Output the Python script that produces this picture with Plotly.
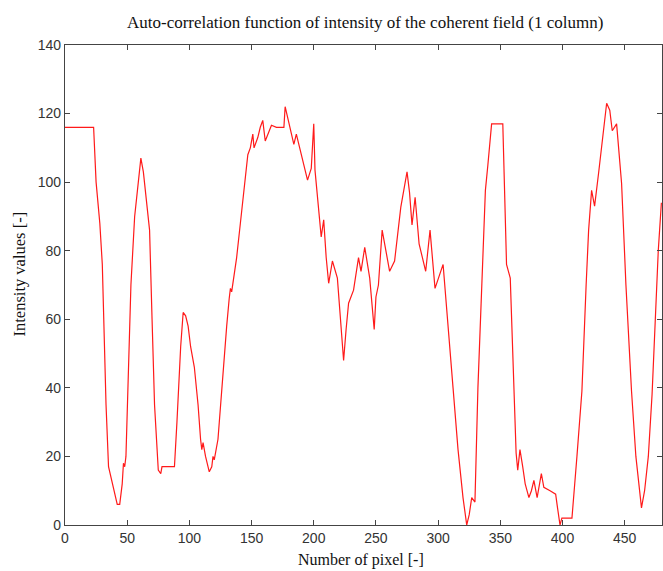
import plotly.graph_objects as go

# Pixel index (x) and intensity values (y)
pixel = [0, 23, 25, 28, 30, 33, 35, 38, 40, 42, 44, 46, 47, 48, 49, 51, 53, 56, 59, 61, 63, 66, 68,
         70, 72, 75, 77, 78, 88, 90, 93, 95, 97, 99, 101, 104, 107, 109, 110, 111, 113, 116, 118,
         119, 120, 123, 125, 127, 130, 132, 133, 134, 136, 138, 141, 144, 147, 149, 151, 152, 155,
         157, 159, 161, 163, 166, 170, 176, 177, 180, 184, 186, 190, 195, 198, 200, 201, 204, 206,
         208, 210, 212, 215, 219, 222, 224, 226, 228, 232, 236, 238, 241, 245, 248.6, 250, 252, 255,
         258, 261, 265, 270, 275, 277, 279, 281.5, 284.7, 290, 293.5, 297.5, 304, 308, 312, 316,
         320, 323, 325, 327, 329.6, 332, 335, 338, 340, 343, 352, 355, 358, 361, 362.7, 364, 365.8,
         368, 370, 373, 375, 377, 379.6, 383, 385, 390, 394.5, 396, 398, 399.5, 407.6, 411.6, 415.6,
         419, 421, 423.4, 425.8, 429, 432, 435.5, 438, 440, 443.5, 447.5, 451, 455.5, 459, 463.5,
         466, 469, 472, 474.7, 477, 479.5]
intensity = [116, 116, 100, 88, 76, 35, 17, 12, 9, 6, 6, 12, 18, 17, 20, 45, 70, 90, 100, 107, 103, 92, 86,
             60, 35, 16, 15, 17, 17, 30, 52, 62, 61, 58, 52, 46, 35, 25, 22, 24, 20, 15.5, 17,
             20, 19, 25, 35, 45, 58, 66, 69, 68, 73, 78, 88, 98, 108, 110, 114, 110, 113,
             116, 118, 112, 114, 116.6, 116, 116, 122, 117, 111, 114, 108, 100.6, 104, 117, 103.5, 92, 84,
             89, 78, 70.5, 77, 72, 58, 48, 57, 64.7, 68.5, 78, 74, 81, 72, 57, 66.5, 70, 86,
             80, 74, 77, 92.7, 103, 97, 87.5, 95.6, 82, 74, 86, 69, 76, 59, 40, 22,
             8, 0, 3, 8, 6.7, 40, 70, 97.6, 105, 117, 117, 76, 72, 40, 21, 16, 22,
             17, 12, 8, 10, 13, 8, 15, 11, 10, 9, 5, 0, 2, 2, 20, 39,
             70, 86, 97.6, 93, 102.6, 112, 123, 121, 115, 117, 99.7, 70, 39, 20, 5,
             10, 20, 38, 59, 80, 94]

x_ticks = [0, 50, 100, 150, 200, 250, 300, 350, 400, 450]
y_ticks = [0, 20, 40, 60, 80, 100, 120, 140]

title_text = "Auto-correlation function of intensity of the coherent field (1 column)"
x_label = "Number of pixel [-]"
y_label = "Intensity values [-]"

W, H = 663, 571
ML, MR, MT, MB = 65, 1, 45, 46
PW, PH = W - ML - MR, H - MT - MB

serif = "Liberation Serif, Times New Roman, serif"

fig = go.Figure()
fig.add_trace(go.Scatter(x=pixel, y=intensity, mode="lines",
                         line=dict(color="#ff1a1a", width=1.2), showlegend=False,
                         hoverinfo="skip"))

axis_common = dict(showgrid=False, zeroline=False, showline=True, mirror="ticks",
                   linecolor="#444444", linewidth=1.2, ticks="inside", ticklen=5,
                   tickcolor="#444444", tickwidth=1,
                   tickfont=dict(family="Liberation Sans, Arial, sans-serif", size=14,
                                 color="#333333"))

fig.update_layout(
    width=W, height=H,
    margin=dict(l=ML, r=MR, t=MT, b=MB),
    paper_bgcolor="white", plot_bgcolor="white",
    xaxis=dict(range=[0, 480], tickvals=x_ticks, **axis_common),
    yaxis=dict(range=[0, 140], tickvals=y_ticks, **axis_common),
    annotations=[
        dict(text=title_text, xref="paper", yref="paper", x=(364.5 - ML) / PW,
             y=1 + (MT - 23) / PH,
             xanchor="center", yanchor="middle", showarrow=False,
             font=dict(family=serif, size=17, color="#111111")),
        dict(text=x_label, xref="paper", yref="paper", x=(361 - ML) / PW,
             y=-(560 - (H - MB)) / PH,
             xanchor="center", yanchor="middle", showarrow=False,
             font=dict(family=serif, size=16, color="#111111")),
        dict(text=y_label, xref="paper", yref="paper", x=-(ML - 19) / PW,
             y=((H - MB) - 274.5) / PH,
             xanchor="center", yanchor="middle", showarrow=False, textangle=-90,
             font=dict(family=serif, size=16.5, color="#111111")),
    ],
)

fig.write_html("out.html", config={"displayModeBar": False},
               post_script="document.body.style.margin='0px';document.body.style.overflow='hidden';")
